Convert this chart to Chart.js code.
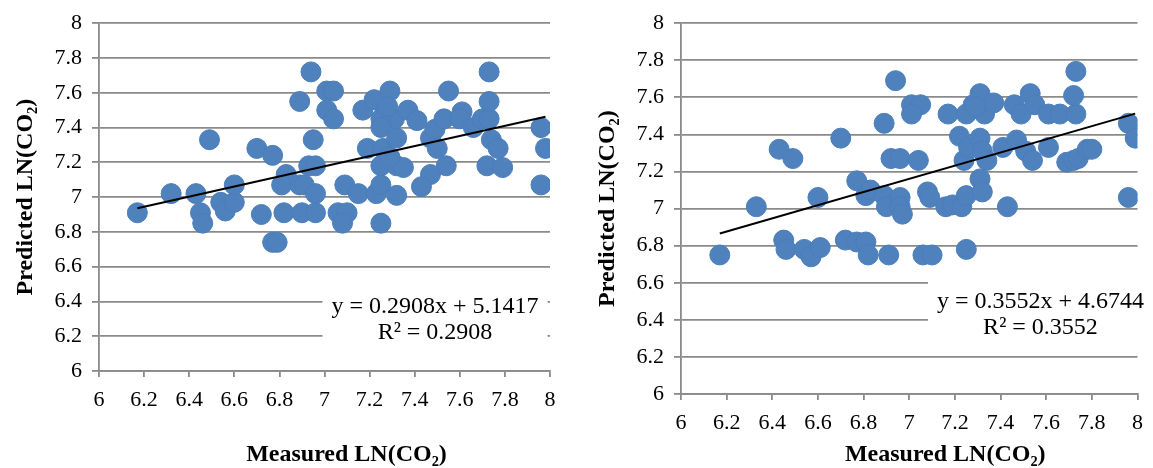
<!DOCTYPE html>
<html>
<head>
<meta charset="utf-8">
<script src="https://cdn.jsdelivr.net/npm/chart.js@4.4.1/dist/chart.umd.min.js"></script>
<style>
  html, body { margin: 0; padding: 0; background: #fff; }
  body { width: 1153px; height: 468px; position: relative; overflow: hidden; }
  .panel { position: absolute; top: 0; height: 468px; }
  #panel-a { left: 0; width: 570px; }
  #panel-b { left: 582px; width: 571px; }
</style>
</head>
<body>
<div class="panel" id="panel-a"><canvas id="chart-a"></canvas></div>
<div class="panel" id="panel-b"><canvas id="chart-b"></canvas></div>
<script>
/* Measured vs predicted LN(CO2) for two models, each with its linear trendline. */

const tickValues = [6, 6.2, 6.4, 6.6, 6.8, 7, 7.2, 7.4, 7.6, 7.8, 8];

// left panel
const measuredA = [
  6.17, 6.32, 6.43, 6.49, 6.45, 6.46, 6.54, 6.56, 6.60, 6.60,
  6.70, 6.77, 6.72, 6.77, 6.79, 6.83, 6.81, 6.82, 6.89, 6.91,
  6.93, 6.96, 6.96, 6.90, 6.96, 6.95, 6.89, 6.94, 7.01, 7.04,
  7.01, 7.04, 7.09, 7.06, 7.10, 7.08, 7.15, 7.17, 7.22, 7.19,
  7.23, 7.25, 7.25, 7.32, 7.29, 7.27, 7.31, 7.25, 7.25, 7.37,
  7.41, 7.47, 7.49, 7.53, 7.50, 7.55, 7.54, 7.47, 7.43, 7.61,
  7.60, 7.66, 7.70, 7.73, 7.73, 7.73, 7.74, 7.77, 7.72, 7.79,
  7.96, 7.96, 7.98, 7.26, 7.32, 7.25, 7.32, 7.35, 7.29, 7.28,
];
const predictedA = [
  6.91, 7.02, 7.02, 7.33, 6.91, 6.85, 6.97, 6.92, 6.97, 7.07,
  7.28, 7.24, 6.90, 6.74, 6.74, 7.13, 7.07, 6.91, 7.07, 7.07,
  7.18, 7.18, 7.02, 6.91, 6.91, 7.33, 7.55, 7.72, 7.61, 7.61,
  7.50, 7.45, 7.07, 6.91, 6.91, 6.85, 7.02, 7.50, 7.56, 7.28,
  7.02, 6.85, 7.07, 7.01, 7.61, 7.50, 7.45, 7.45, 7.40, 7.50,
  7.44, 7.34, 7.39, 7.45, 7.28, 7.61, 7.18, 7.13, 7.06, 7.49,
  7.45, 7.40, 7.45, 7.45, 7.55, 7.72, 7.33, 7.28, 7.18, 7.17,
  7.07, 7.40, 7.28, 7.28, 7.34, 7.18, 7.18, 7.17, 7.23, 7.52,
];
const fitA = { slope: 0.2908, intercept: 5.1417, r2: "0.2908" };

// right panel
const measuredB = [
  6.17, 6.33, 6.43, 6.49, 6.45, 6.46, 6.54, 6.57, 6.61, 6.60,
  6.70, 6.72, 6.77, 6.81, 6.82, 6.77, 6.81, 6.83, 6.89, 6.90,
  6.91, 6.89, 6.94, 6.92, 6.96, 6.96, 6.96, 6.97, 7.01, 7.05,
  7.01, 7.04, 7.06, 7.10, 7.08, 7.09, 7.16, 7.19, 7.23, 7.25,
  7.25, 7.17, 7.22, 7.24, 7.26, 7.25, 7.28, 7.31, 7.33, 7.37,
  7.31, 7.32, 7.31, 7.32, 7.34, 7.41, 7.43, 7.46, 7.49, 7.47,
  7.51, 7.53, 7.54, 7.55, 7.61, 7.61, 7.66, 7.69, 7.72, 7.73,
  7.72, 7.73, 7.74, 7.78, 7.80, 7.96, 7.99, 7.96, 7.29,
];
const predictedB = [
  6.75, 7.01, 7.32, 7.27, 6.83, 6.78, 6.78, 6.74, 6.79, 7.06,
  7.38, 6.83, 6.82, 6.82, 6.75, 7.15, 7.07, 7.10, 7.07, 7.01,
  6.75, 7.46, 7.69, 7.27, 7.27, 7.06, 7.01, 6.97, 7.56, 7.56,
  7.51, 7.26, 6.75, 6.75, 7.09, 7.06, 7.01, 7.02, 7.01, 7.07,
  6.78, 7.51, 7.39, 7.26, 7.33, 7.51, 7.56, 7.62, 7.51, 7.57,
  7.38, 7.31, 7.16, 7.09, 7.26, 7.33, 7.01, 7.56, 7.51, 7.37,
  7.31, 7.62, 7.26, 7.56, 7.51, 7.33, 7.51, 7.25, 7.26, 7.51,
  7.61, 7.74, 7.27, 7.32, 7.32, 7.46, 7.38, 7.06, 7.55,
];
const fitB = { slope: 0.3552, intercept: 4.6744, r2: "0.3552" };

const SERIF = "'Liberation Serif', 'Times New Roman', serif";
const GRID = "#8a8a8a";
const fmt = (v) => String(+v.toFixed(1));

// white box with the trendline equation, anchored in data units
const eqLabel = {
  id: "eqLabel",
  afterDatasetsDraw(chart, args, opts) {
    const { ctx, scales: { x, y } } = chart;
    const cx = x.getPixelForValue(opts.at[0]), y1 = y.getPixelForValue(opts.at[1]);
    ctx.save();
    ctx.font = `24px ${SERIF}`;
    const w = Math.max(...opts.lines.map((l) => ctx.measureText(l).width)) + 18;
    ctx.fillStyle = "#fff";
    ctx.fillRect(cx - w / 2, y1 - 22, w, opts.gap + 38);
    ctx.fillStyle = "#000";
    ctx.textAlign = "center";
    ctx.textBaseline = "middle";
    opts.lines.forEach((l, i) => ctx.fillText(l, cx, y1 + i * opts.gap));
    ctx.restore();
  },
};

// x title sits a little right of the plot centre, as in the source figure
const xTitle = {
  id: "xTitle",
  afterDraw(chart, args, opts) {
    const { ctx, chartArea: a } = chart;
    ctx.save();
    ctx.font = `bold 24px ${SERIF}`;
    ctx.fillStyle = "#000";
    ctx.textAlign = "center";
    ctx.textBaseline = "middle";
    ctx.fillText(opts.text, (a.left + a.right) / 2 + opts.shift, chart.height - 13);
    ctx.restore();
  },
};

function axis(isX, size) {
  return {
    type: "linear", min: 6, max: 8,
    afterBuildTicks: (s) => { s.ticks = tickValues.map((v) => ({ value: v })); },
    afterFit: (s) => { if (isX) s.height = size; else s.width = size; },
    grid: isX
      ? { drawOnChartArea: false, color: GRID, lineWidth: 1.8, tickLength: 6 }
      : { color: GRID, lineWidth: 1.8, tickLength: 7 },
    border: { color: GRID, width: 1.8 },
    ticks: { callback: fmt, color: "#000", padding: 10, maxRotation: 0, font: { family: SERIF, size: 22 } },
    title: {
      display: !isX, text: "Predicted LN(CO₂)", color: "#000",
      font: { family: SERIF, size: 24, weight: "bold" },
      padding: { top: 11, bottom: 0 },
    },
  };
}

function makeChart(id, measured, predicted, fit, labelAt, xAxisHeight, padRight, shift) {
  const pts = measured.map((m, i) => ({ x: m, y: predicted[i] }));
  const lo = Math.min(...measured), hi = Math.max(...measured);
  const trend = [lo, hi].map((m) => ({ x: m, y: fit.slope * m + fit.intercept }));
  return new Chart(document.getElementById(id), {
    type: "scatter",
    data: {
      datasets: [
        { data: trend, type: "line", showLine: true, borderColor: "#000", borderWidth: 2, pointRadius: 0, order: 0 },
        { data: pts, backgroundColor: "#4F81BD", borderColor: "#4A7EBB", borderWidth: 1, pointRadius: 10, pointHoverRadius: 10, order: 1 },
      ],
    },
    options: {
      responsive: true, maintainAspectRatio: false, animation: false,
      layout: { padding: { left: 0, top: 22, right: padRight, bottom: 0 } },
      plugins: {
        legend: { display: false }, tooltip: { enabled: false },
        eqLabel: {
          at: labelAt, gap: 26,
          lines: [`y = ${fit.slope}x + ${fit.intercept}`, `R² = ${fit.r2}`],
        },
        xTitle: { text: "Measured LN(CO₂)", shift },
      },
      scales: { x: axis(true, xAxisHeight), y: axis(false, 99) },
    },
    plugins: [eqLabel, xTitle],
  });
}

makeChart("chart-a", measuredA, predictedA, fitA, [7.49, 6.37], 97, 20, 22);
makeChart("chart-b", measuredB, predictedB, fitB, [7.575, 6.497], 74, 9, 36);
</script>
</body>
</html>
